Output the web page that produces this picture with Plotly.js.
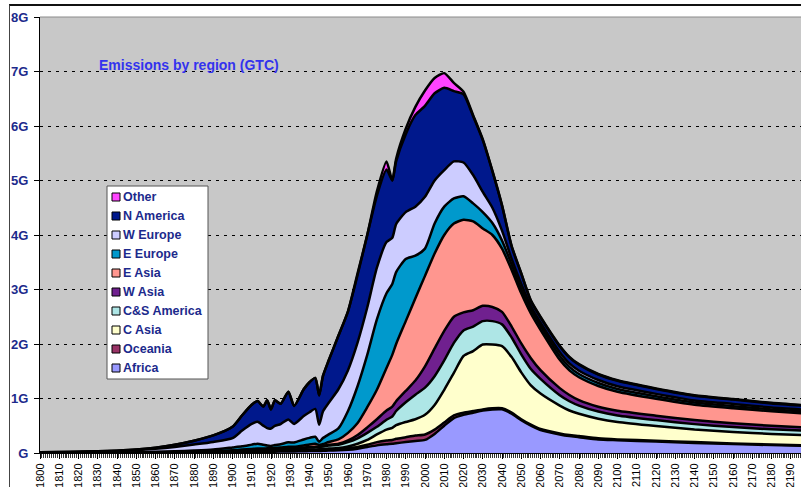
<!DOCTYPE html>
<html><head><meta charset="utf-8">
<script src="https://cdn.plot.ly/plotly-3.0.1.min.js"></script>
<style>
html,body{margin:0;padding:0;background:#fff;overflow:hidden}
#chart{width:801px;height:487px;position:absolute;left:0;top:0}
#frame{position:absolute;left:9px;top:4px;width:900px;height:600px;border-top:2px solid #111;border-left:1px solid #444;pointer-events:none}
</style></head><body>
<div id="chart"></div><div id="frame"></div>
<script>
const years=[1800,1810,1820,1830,1840,1850,1860,1870,1880,1890,1900,1905,1910,1913,1916,1918,1920,1922,1925,1929,1932,1937,1940,1943,1945,1947,1950,1955,1960,1965,1970,1975,1980,1983,1985,1990,1995,2000,2005,2010,2015,2020,2025,2030,2035,2040,2045,2050,2055,2060,2070,2075,2080,2090,2100,2120,2140,2160,2180,2200];

const africa=[.002,.002,.002,.003,.003,.004,.005,.006,.008,.01,.015,.018,.02,.022,.022,.023,.024,.025,.026,.028,.028,.032,.035,.036,.037,.04,.045,.05,.06,.08,.11,.14,.16,.17,.18,.20,.22,.24,.35,.50,.64,.70,.74,.78,.80,.80,.72,.60,.50,.42,.34,.31,.29,.25,.235,.21,.185,.165,.145,.13];
const oceania=[0,0,0,0,0,.001,.001,.002,.003,.004,.007,.008,.01,.011,.011,.011,.012,.012,.013,.014,.014,.016,.017,.018,.018,.019,.02,.02,.03,.03,.04,.06,.07,.07,.08,.09,.10,.10,.08,.06,.05,.04,.03,.02,.02,.02,.02,.02,.02,.02,.02,.02,.02,.02,.015,.015,.015,.01,.01,.01];
const cAsia=[0,0,0,0,0,0,.001,.001,.002,.003,.004,.005,.006,.006,.006,.006,.007,.007,.008,.009,.009,.011,.012,.012,.012,.013,.016,.02,.03,.06,.09,.14,.20,.22,.25,.28,.30,.36,.45,.60,.78,1.04,1.10,1.19,1.17,1.14,1.02,.86,.72,.65,.51,.45,.41,.36,.32,.27,.23,.21,.195,.185];
const csAmerica=[0,0,0,0,.001,.001,.002,.003,.005,.007,.012,.014,.017,.02,.02,.021,.022,.024,.026,.03,.028,.033,.036,.038,.04,.045,.055,.06,.08,.10,.13,.14,.18,.21,.26,.36,.45,.50,.53,.54,.55,.47,.45,.43,.43,.40,.36,.33,.30,.27,.19,.17,.15,.13,.12,.11,.10,.09,.085,.08];
const wAsia=[0,0,0,0,0,0,0,.001,.001,.001,.002,.002,.003,.003,.003,.003,.003,.004,.004,.005,.005,.007,.008,.009,.01,.012,.015,.02,.03,.06,.10,.14,.17,.18,.18,.21,.26,.39,.51,.54,.48,.33,.30,.28,.26,.23,.20,.20,.20,.16,.13,.115,.10,.09,.085,.08,.075,.07,.065,.06];
const eAsia=[.001,.001,.001,.002,.002,.003,.004,.005,.006,.008,.012,.015,.018,.02,.02,.022,.022,.024,.025,.03,.03,.04,.05,.055,.03,.035,.05,.08,.14,.22,.37,.54,.78,.95,1.05,1.28,1.51,1.66,1.74,1.76,1.71,1.70,1.63,1.42,1.32,1.16,1.04,.92,.82,.74,.52,.45,.42,.38,.35,.31,.28,.275,.265,.255];
const eEurope=[.001,.001,.002,.002,.003,.005,.008,.013,.02,.03,.05,.06,.08,.09,.07,.05,.04,.05,.06,.08,.08,.11,.12,.13,.06,.11,.14,.20,.40,.68,.96,1.29,1.37,1.30,1.32,1.14,.78,.50,.55,.52,.46,.43,.33,.30,.22,.15,.10,.08,.07,.07,.07,.065,.06,.055,.05,.045,.04,.04,.035,.035];
const wEurope=[.009,.011,.014,.019,.026,.036,.055,.08,.11,.14,.17,.29,.38,.40,.35,.32,.32,.35,.37,.42,.34,.43,.47,.51,.31,.49,.58,.72,.75,.80,.87,.95,.94,.85,.88,.86,.90,.95,.79,.67,.68,.62,.52,.37,.28,.18,.10,.09,.06,.06,.07,.065,.06,.055,.05,.045,.04,.04,.035,.035];
const nAmerica=[.001,.002,.003,.005,.008,.012,.022,.04,.07,.12,.21,.28,.35,.38,.35,.51,.35,.47,.37,.51,.33,.49,.55,.57,.54,.65,.78,.98,1.08,1.24,1.33,1.32,1.33,1.05,1.15,1.43,1.68,1.67,1.60,1.51,1.29,1.25,1.08,.95,.67,.46,.23,.19,.10,.10,.11,.11,.11,.10,.10,.09,.085,.08,.075,.07];
const other=[0,0,0,0,0,0,0,0,0,0,0,0,0,0,0,0,0,0,0,0,0,0,0,0,0,0,0,0,0,.03,0,.08,.15,0,.05,.10,.15,.28,.28,.27,.15,.05,.02,.02,.01,.01,.01,.01,.01,.01,.01,.01,.01,.01,.01,.01,.01,.01,.01,.01];

const regionNames=['Africa','Oceania','C Asia','C&S America','W Asia','E Asia','E Europe','W Europe','N America','Other'];
const regionColors=['#9999ff','#993366','#ffffcc','#aee6e6','#70208f','#ff968f','#0099cc','#ccccff','#00188c','#ff44ff'];
const regionSeries=[africa,oceania,cAsia,csAmerica,wAsia,eAsia,eEurope,wEurope,nAmerica,other];

const yTickVals=[0,1,2,3,4,5,6,7,8];
const yTickText=['G','1G','2G','3G','4G','5G','6G','7G','8G'];
const xTickVals=[1800,1810,1820,1830,1840,1850,1860,1870,1880,1890,1900,1910,1920,1930,1940,1950,1960,1970,1980,1990,2000,2010,2020,2030,2040,2050,2060,2070,2080,2090,2100,2110,2120,2130,2140,2150,2160,2170,2180,2190];
const xTickText=['1800','1810','1820','1830','1840','1850','1860','1870','1880','1890','1900','1910','1920','1930','1940','1950','1960','1970','1980','1990','2000','2010','2020','2030','2040','2050','2060','2070','2080','2090','2100','2110','2120','2130','2140','2150','2160','2170','2180','2190'];
const chartTitle='Emissions by region (GTC)';

const FONT='Arial, "Liberation Sans", sans-serif';
const NAVY='#1c2a8c';

const traces=regionSeries.map((vals,i)=>({
  type:'scatter', mode:'lines', x:years, y:vals, name:regionNames[i],
  stackgroup:'one', fillcolor:regionColors[i],
  line:{color:'#000',width:2.5,shape:'spline',smoothing:0.6},
  hoverinfo:'skip', showlegend:false
}));

// pixel helpers for the plot area (l=40, t=17, w=761, h=436)
const L=40,T=17,W=761,H=436;
const px=x=>(x-L)/W, py=y=>(T+H-y)/H;

const shapes=[
  {type:'line',xref:'paper',yref:'paper',x0:0,x1:1,y0:1,y1:1,line:{color:'#8a8a8a',width:1}},
  {type:'rect',xref:'paper',yref:'paper',x0:px(107),x1:px(208),y0:py(379),y1:py(186),fillcolor:'#ffffff',line:{color:'#555',width:1}}
];
const annotations=[
  {xref:'paper',yref:'paper',x:px(97),y:py(65.5),xanchor:'left',yanchor:'middle',showarrow:false,
   text:chartTitle,font:{family:FONT,size:14,color:'#3333ee',weight:'bold'}}
];
const order=[9,8,7,6,5,4,3,2,1,0];
order.forEach((k,r)=>{
  const cy=197+19*r;
  shapes.push({type:'rect',xref:'paper',yref:'paper',x0:px(112),x1:px(120),y0:py(cy+4),y1:py(cy-4),
    fillcolor:regionColors[k],line:{color:'#000',width:1}});
  annotations.push({xref:'paper',yref:'paper',x:px(121),y:py(cy),xanchor:'left',yanchor:'middle',showarrow:false,
    text:regionNames[k],font:{family:FONT,size:12.5,color:NAVY,weight:'bold'}});
});

const layout={
  width:801,height:487,
  margin:{l:L,r:0,t:T,b:487-T-H,pad:0},
  paper_bgcolor:'#ffffff',plot_bgcolor:'#c8c8c8',
  showlegend:false,
  font:{family:FONT},
  xaxis:{range:[1800,1800+W/1.925],tickmode:'array',tickvals:xTickVals,ticktext:xTickText,
    tickangle:-90,ticks:'outside',ticklen:5,tickcolor:'#000',
    tickfont:{family:FONT,size:11,color:'#000'},
    minor:{tickmode:'linear',tick0:1800,dtick:1,ticks:'outside',ticklen:4,tickcolor:'#333',tickwidth:1,showgrid:false},
    showline:true,linecolor:'#000',linewidth:1,showgrid:false,zeroline:false,fixedrange:true},
  yaxis:{range:[0,8],tickmode:'array',tickvals:yTickVals,ticktext:yTickText,
    ticks:'outside',ticklen:5,tickcolor:'#000',ticklabelstandoff:3,
    tickfont:{family:FONT,size:13,color:NAVY,weight:'bold'},
    showline:true,linecolor:'#000',linewidth:1,
    showgrid:true,gridcolor:'#000',gridwidth:1,griddash:'3px,5px',zeroline:false,fixedrange:true},
  shapes:shapes,annotations:annotations
};
Plotly.newPlot('chart',traces,layout,{staticPlot:true,displayModeBar:false});
</script></body></html>
